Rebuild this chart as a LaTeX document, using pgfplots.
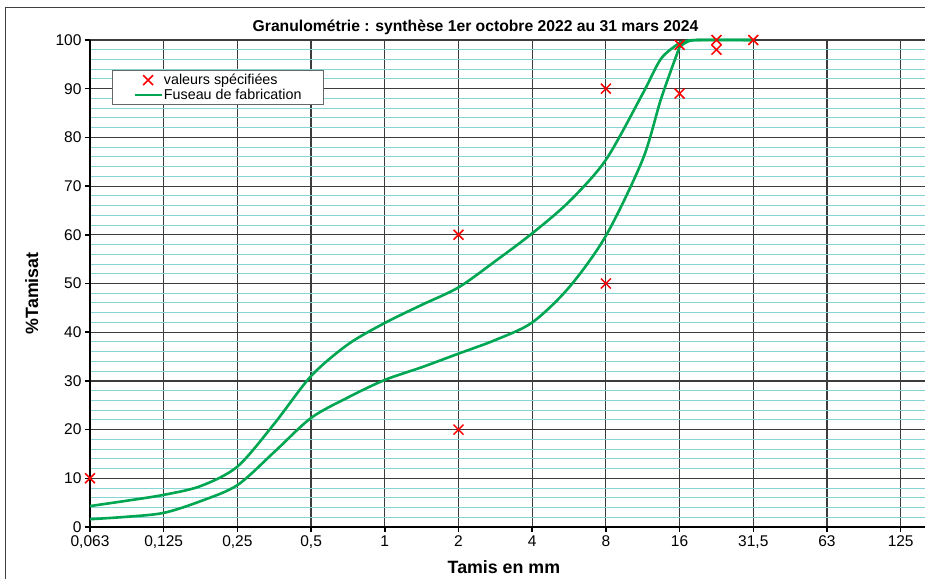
\documentclass[border=0pt]{standalone}
\usepackage{pgfplots}
\pgfplotsset{compat=1.18}
\usepackage{fontspec}
\setmainfont{Liberation Sans}
\definecolor{fuseau}{RGB}{0,166,81}
\definecolor{minorgrid}{RGB}{135,212,215}
\definecolor{majorgrid}{RGB}{60,60,60}
\pgfplotsset{
  linelegend/.style={legend image code/.code={\draw[##1] (0pt,0pt) -- (27pt,0pt);}},
  marklegend/.style={legend image code/.code={\draw[mark repeat=2,mark phase=2,##1] plot coordinates {(0pt,0pt) (13.5pt,0pt) (27pt,0pt)};}},
}
\begin{document}
\begin{tikzpicture}
\path[use as bounding box] (0pt,0pt) rectangle (925pt,-578pt);
\draw[black!75, line width=1pt] (5pt,-590pt) -- (5pt,-8pt) -- (930pt,-8pt);
\node[font=\fontsize{15.7}{18}\selectfont\bfseries] at (475.5pt,-27pt) {Granulométrie : synthèse 1er octobre 2022 au 31 mars 2024};
\begin{axis}[
  at={(90pt,-527pt)}, anchor=south west,
  scale only axis, width=835pt, height=487pt,
  xmin=0, xmax=11.33, ymin=0, ymax=100,
  axis x line*=bottom, axis y line*=left,
  axis line style={-, line width=2.5pt, black},
  every outer x axis line/.append style={-},
  every outer y axis line/.append style={-},
  xtick={0,...,11},
  xticklabels={{0,063},{0,125},{0,25},{0,5},1,2,4,8,16,{31,5},63,125},
  ytick={0,10,...,100},
  minor y tick num=4,
  minor tick length=0pt,
  major tick length=5pt,
  tick align=outside,
  tick style={black, line width=1.5pt},
  grid=both,
  major grid style={majorgrid, line width=1.2pt},
  minor grid style={minorgrid, line width=1pt},
  tick label style={font=\fontsize{15.5}{18}\selectfont},
  /pgf/number format/assume math mode=true,
  xlabel={Tamis en mm},
  xlabel style={font=\fontsize{17.8}{20}\selectfont\bfseries, at={(axis description cs:0.4957,-0.0821)}, anchor=center},
  ylabel={\%Tamisat},
  ylabel style={font=\fontsize{17.8}{20}\selectfont\bfseries, at={(axis description cs:-0.0698,0.48)}, anchor=center},
  legend style={at={(axis description cs:0.0263,0.938)}, anchor=north west, draw=black!60, line width=0.8pt, fill=white, font=\fontsize{14.3}{17}\selectfont, inner xsep=21pt, inner ysep=2pt, row sep=0pt, nodes={inner xsep=1pt, inner ysep=1.5pt}},
  legend cell align=left,
  reverse legend,
  clip=false,
]
\addplot[fuseau, line width=2.6pt, smooth, tension=0.5, linelegend]
  coordinates {(0,4.3) (0.5,5.4) (1,6.6) (1.5,8.4) (2,12.4) (2.5,21.2) (3,31) (3.5,37.5) (4,41.9) (4.5,45.6) (5,49.2) (5.5,54.6) (6,60.3) (6.5,66.8) (7,75.4) (7.5,89) (7.75,96.2) (8,99.4)};
\addlegendentry{Fuseau de fabrication}
\addplot[fuseau, line width=2.6pt, smooth, tension=0.5, forget plot]
  coordinates {(8,99.4) (8.12,99.9) (8.3,100) (9,100)};
\addplot[fuseau, line width=2.6pt, smooth, tension=0.5, forget plot]
  coordinates {(0,1.6) (0.5,2.1) (1,2.9) (1.5,5.3) (2,8.6) (2.5,15.4) (3,22.4) (3.5,26.6) (4,30.2) (4.5,32.8) (5,35.6) (5.5,38.4) (6,42) (6.5,49.2) (7,59.8) (7.5,75.5) (7.75,88) (8,98.6)};
\addplot[fuseau, line width=2.6pt, smooth, tension=0.5, forget plot]
  coordinates {(8,98.6) (8.1,99.6) (8.25,100) (9,100)};
\addplot[only marks, mark=x, mark size=7pt, red, line width=1.5pt, marklegend]
  coordinates {(0,10) (5,60) (5,20) (7,90) (7,50) (8,99) (8,89) (8.5,100) (8.5,98) (9,100)};
\addlegendentry{valeurs spécifiées}
\end{axis}
\end{tikzpicture}
\end{document}
